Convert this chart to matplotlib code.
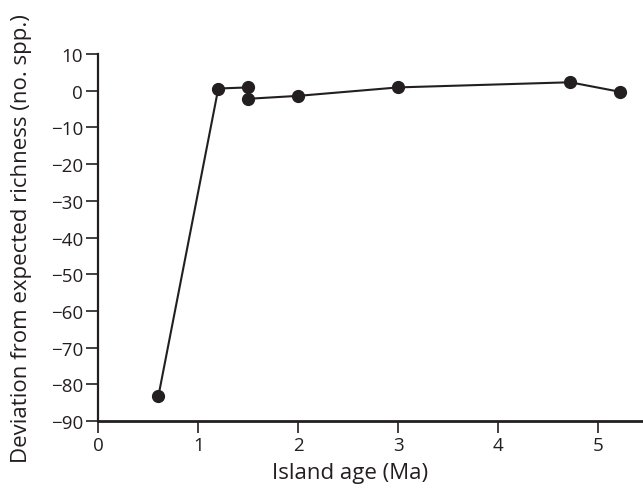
import matplotlib
matplotlib.use("Agg")
import matplotlib.pyplot as plt

age = [0.6, 1.2, 1.5, 1.5, 2.0, 3.0, 4.72, 5.22]
deviation = [-83.3, 0.6, 0.9, -2.2, -1.4, 0.9, 2.3, -0.3]
xticks = [0, 1, 2, 3, 4, 5]
yticks = [10, 0, -10, -20, -30, -40, -50, -60, -70, -80, -90]

plt.rcParams['font.family'] = ['Open Sans', 'DejaVu Sans']
ink = '#231f20'

fig = plt.figure(figsize=(6.43, 4.89), dpi=100)
ax = fig.add_axes([0.153, 0.137, 0.847, 0.7505])
ax.plot(age, deviation, color=ink, lw=1.5, marker='o', ms=8.5, zorder=3, clip_on=False)
ax.set_xlim(0, 5.45)
ax.set_ylim(-90, 10)
ax.set_xticks(xticks)
ax.set_xticklabels([str(t) for t in xticks])
ax.set_yticks(yticks)
ax.set_yticklabels([str(t).replace('-', '\u2212') for t in yticks])
for s in ['top', 'right']:
    ax.spines[s].set_visible(False)
ax.spines['left'].set_linewidth(1.6)
ax.spines['bottom'].set_linewidth(2.0)
ax.spines['left'].set_color(ink)
ax.spines['bottom'].set_color(ink)
ax.tick_params(direction='out', length=8.5, width=1.2, colors=ink, labelsize=13.5, pad=2.5)
ax.set_xlabel('Island age (Ma)', fontsize=16, color=ink)
ax.set_ylabel('Deviation from expected richness (no. spp.)', fontsize=16, color=ink)
ax.xaxis.set_label_coords(0.462, -0.112)
ax.yaxis.set_label_coords(-0.122, 0.50)
fig.savefig('out.png', dpi=100)
